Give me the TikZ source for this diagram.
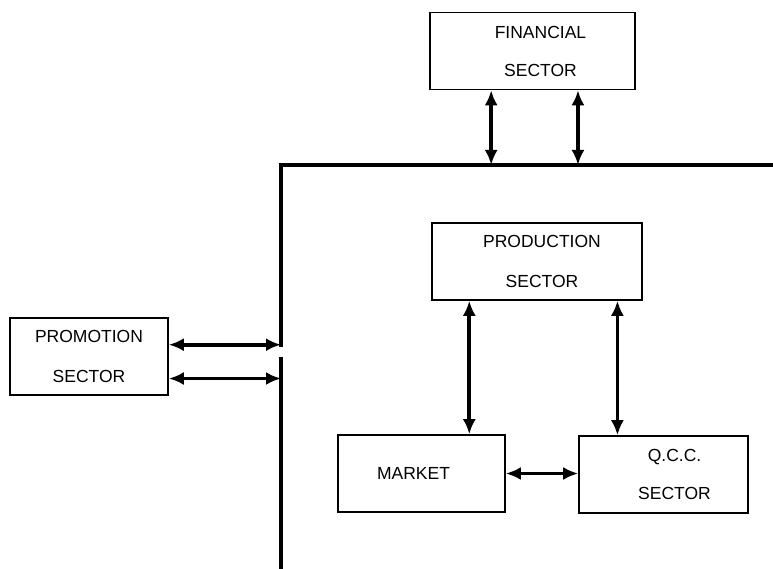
\documentclass[tikz,border=0pt]{standalone}
\usepackage{fontspec}
\setmainfont{Liberation Sans}
\usepackage{tikz}
\usetikzlibrary{arrows.meta,positioning,calc}

\begin{document}
\begin{tikzpicture}[x=1pt,y=-1pt,
		sector/.style={rectangle, draw, line width=1.6pt, minimum height=77pt, align=center, font=\fontsize{17.5}{20}\selectfont},
		link/.style={{Latex[length=15pt,width=13pt]}-{Latex[length=15pt,width=13pt]}, line width=3.6pt}]
		\useasboundingbox (0,0) rectangle (773,569);
		\node at (532.5,51) [sector, minimum width=205pt] (fin) {\hspace{16pt}FINANCIAL\\[18pt]\hspace{16pt}SECTOR};
		\node at (537,261.5) [sector, minimum width=210pt] (prod) {\hspace{10pt}PRODUCTION\\[20pt]\hspace{10pt}SECTOR};
		\node at (89,356.5) [sector, minimum width=158pt] (prom) {PROMOTION\\[20pt]SECTOR};
		\node at (421.5,473.5) [sector, minimum width=167pt] (mkt) {MARKET\hspace{16pt}};
		\node at (663.5,474.5) [sector, minimum width=169pt] (qcc) {\hspace{22pt}Q.C.C.\\[18pt]\hspace{22pt}SECTOR};
		% common line
		\coordinate (corner) at (281,165);
		\coordinate (busend) at (773,165);
		\coordinate (gaptop) at (281,347);
		\coordinate (gapbot) at (281,357);
		\coordinate (busbot) at (281,569);
		\draw [line width=3.4pt] (busend) -- (corner) -- (gaptop) (gapbot) -- (busbot);
		\coordinate (f1) at ($(fin.south west)!0.30!(fin.south east)$);
		\coordinate (f2) at ($(fin.south west)!0.72!(fin.south east)$);
		\draw [link] (f1) -- (f1 |- corner);
		\draw [link] (f2) -- (f2 |- corner);
		\coordinate (m1) at ($(prom.north east)!0.35!(prom.south east)$);
		\coordinate (m2) at ($(prom.north east)!0.78!(prom.south east)$);
		\draw [link] (m1) -- (m1 -| corner);
		\draw [link] (m2) -- (m2 -| corner);
		\coordinate (p1) at ($(prod.south west)!0.18!(prod.south east)$);
		\coordinate (p2) at ($(prod.south west)!0.88!(prod.south east)$);
		\draw [link] (p1) -- (p1 |- mkt.north);
		\draw [link] (p2) -- (p2 |- qcc.north);
		\draw [link] (mkt.east) -- (mkt.east -| qcc.west);
\end{tikzpicture}
\end{document}
